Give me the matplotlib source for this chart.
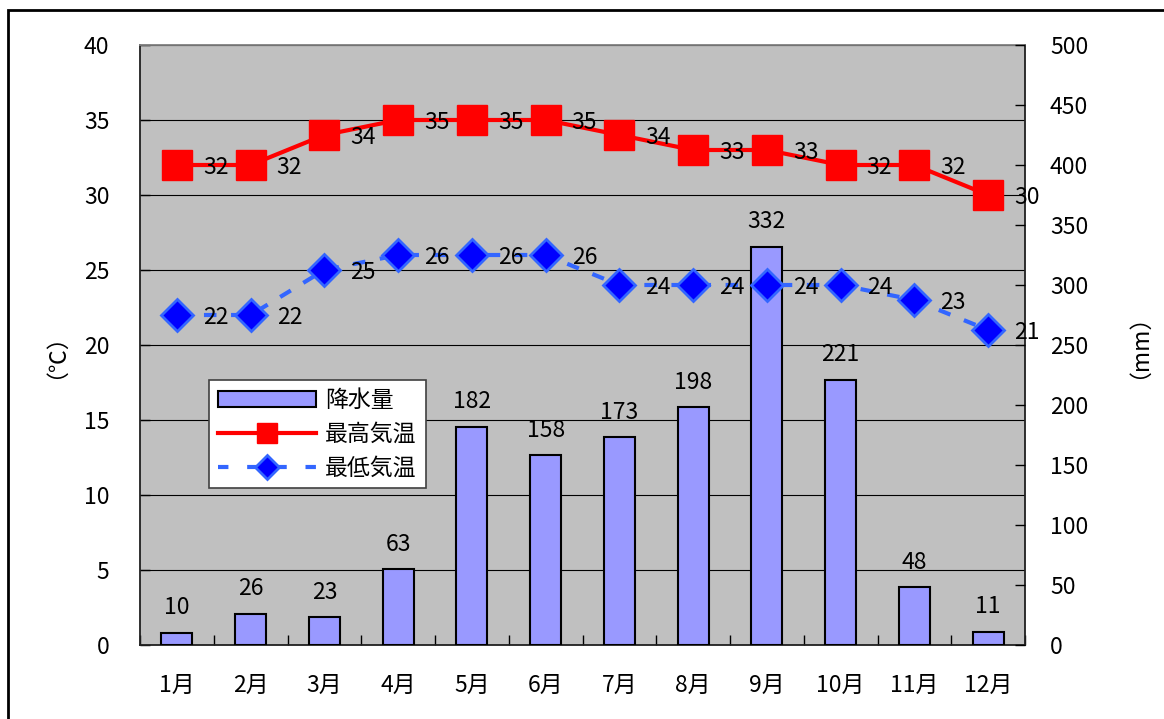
import matplotlib
matplotlib.use("Agg")
import matplotlib.pyplot as plt
import matplotlib.patches as mpatches
from matplotlib.lines import Line2D
import numpy as np

plt.rcParams['font.family'] = ['Noto Sans CJK JP', 'DejaVu Sans']

months = ['1月', '2月', '3月', '4月', '5月', '6月', '7月', '8月', '9月', '10月', '11月', '12月']
precip = [10, 26, 23, 63, 182, 158, 173, 198, 332, 221, 48, 11]
tmax = [32, 32, 34, 35, 35, 35, 34, 33, 33, 32, 32, 30]
tmin = [22, 22, 25, 26, 26, 26, 24, 24, 24, 24, 23, 21]
left_ticks = [0, 5, 10, 15, 20, 25, 30, 35, 40]
right_ticks = [0, 50, 100, 150, 200, 250, 300, 350, 400, 450, 500]

W, H = 1164, 719
fig = plt.figure(figsize=(W / 100, H / 100), dpi=100)
fs = 16.5

pos = [140 / W, (H - 645) / H, 885 / W, 600 / H]
ax = fig.add_axes(pos)
ax.set_facecolor('#C0C0C0')
x = np.arange(len(months))
ax.set_xlim(-0.5, len(months) - 0.5)
ax.set_ylim(0, 40)
ax.set_yticks(left_ticks)
ax.yaxis.grid(True, color='black', lw=0.8)
ax.set_axisbelow(True)
ax.tick_params(axis='y', direction='in', length=7, width=1, pad=22, labelsize=fs, right=False)
ax.set_xticks(x)
ax.set_xticklabels(months)
ax.set_xticks(np.arange(-0.5, len(months)), minor=True)
ax.tick_params(axis='x', which='major', length=0, pad=21, labelsize=fs)
ax.tick_params(axis='x', which='minor', direction='in', length=7, width=1)
for s in ['left', 'bottom', 'right']:
    ax.spines[s].set_color('#202020')
    ax.spines[s].set_linewidth(1.3)
ax.spines['top'].set_color('#808080')
ax.spines['top'].set_linewidth(1.3)

ax2 = ax.twinx()
ax2.set_ylim(0, 500)
ax2.set_yticks(right_ticks)
ax2.tick_params(axis='y', direction='in', length=7, width=1, pad=18, labelsize=fs)
for s in ax2.spines.values():
    s.set_visible(False)
bars = ax2.bar(x, precip, width=0.42, color='#9999FF', edgecolor='black', linewidth=1.5, zorder=2)
for xi, v in zip(x, precip):
    ax2.annotate(str(v), (xi, v), xytext=(0, 18), textcoords='offset points',
                 ha='center', va='center', fontsize=fs)

ax3 = ax.twinx()
ax3.set_ylim(0, 40)
ax3.set_yticks([])
for s in ax3.spines.values():
    s.set_visible(False)
l1, = ax3.plot(x, tmax, color='#FF0000', lw=3, marker='s', markersize=21,
               markerfacecolor='#FF0000', markeredgecolor='#FF0000', zorder=3)
l2, = ax3.plot(x, tmin, color='#3366FF', lw=3, dashes=(3, 3.5), marker='D', markersize=16,
               markerfacecolor='#0000FF', markeredgecolor='#3366FF', markeredgewidth=2, zorder=3)
for xi, v in zip(x, tmax):
    ax3.annotate(str(v), (xi, v), xytext=(28, -2), textcoords='offset points',
                 ha='center', va='center', fontsize=fs, zorder=4)
for xi, v in zip(x, tmin):
    ax3.annotate(str(v), (xi, v), xytext=(28, -2), textcoords='offset points',
                 ha='center', va='center', fontsize=fs, zorder=4)

h_bar = mpatches.Patch(facecolor='#9999FF', edgecolor='black', linewidth=1.5)
h_max = Line2D([], [], color='#FF0000', lw=3, marker='s', markersize=15)
h_min = Line2D([], [], color='#3366FF', lw=3, dashes=(2.5, 4.5), marker='D', markersize=12,
               markerfacecolor='#0000FF', markeredgecolor='#3366FF', markeredgewidth=2)
leg = fig.legend([h_bar, h_max, h_min], ['降水量', '最高気温', '最低気温'],
                 loc='upper left', bbox_to_anchor=(209 / W, 1 - 380 / H),
                 bbox_transform=fig.transFigure, borderaxespad=0, fontsize=fs,
                 frameon=True, fancybox=False, shadow=False, framealpha=1,
                 edgecolor='#404040', handlelength=4.3, handletextpad=0.4,
                 labelspacing=0.48, borderpad=0.38)
leg.get_frame().set_linewidth(1.2)

fig.text(44 / W, 1 - 345 / H, '（℃）', rotation=90, ha='center', va='center', fontsize=fs)
fig.text(1127 / W, 1 - 335 / H, '（mm）', rotation=90, ha='center', va='center', fontsize=fs)

border = mpatches.Rectangle((8 / W, -0.1), 1.2, 1.1 - 10 / H, transform=fig.transFigure,
                            fill=False, edgecolor='black', linewidth=2, clip_on=False)
fig.patches.append(border)

fig.savefig('out.png', dpi=100)
